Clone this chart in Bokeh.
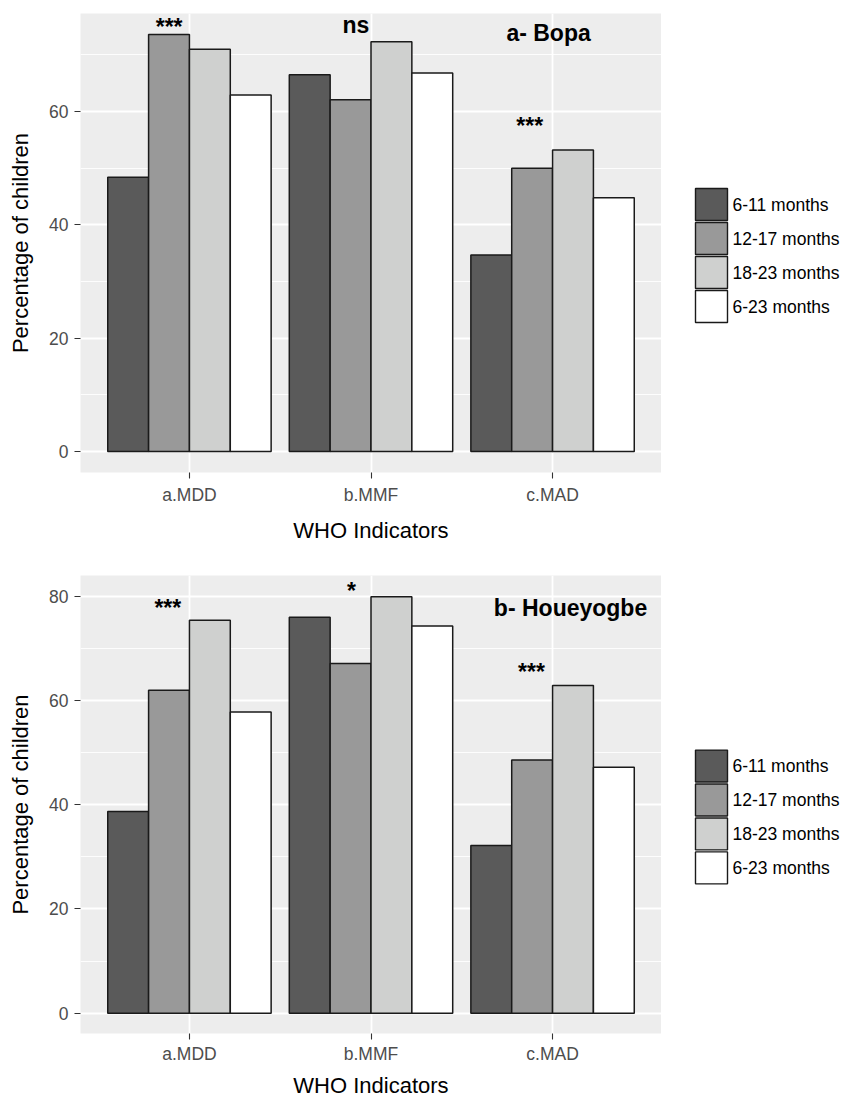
from bokeh.plotting import figure
from bokeh.models import Range1d, FixedTicker, ColumnDataSource
from bokeh.layouts import column, row
from bokeh.core.properties import value
from bokeh.embed import file_html
from bokeh.resources import INLINE

categories = ["a.MDD", "b.MMF", "c.MAD"]
groups = ["6-11 months", "12-17 months", "18-23 months", "6-23 months"]
group_colors = ["#5A5A5A", "#999999", "#CFD0CF", "#FFFFFF"]

# Panel a - Bopa
bopa_6_11 = [48.4, 66.5, 34.7]
bopa_12_17 = [73.6, 62.1, 50.0]
bopa_18_23 = [71.0, 72.3, 53.2]
bopa_6_23 = [62.9, 66.8, 44.8]

# Panel b - Houeyogbe
houe_6_11 = [38.7, 76.0, 32.2]
houe_12_17 = [62.0, 67.1, 48.6]
houe_18_23 = [75.4, 79.9, 62.9]
houe_6_23 = [57.8, 74.3, 47.2]

# Annotations (text, x in category units, y baseline in data units)
bopa_ann_text = ["***", "ns", "a- Bopa", "***"]
bopa_ann_x = [0.888, 1.917, 2.978, 2.874]
bopa_ann_y = [74.9, 75.3, 73.8, 57.4]

houe_ann_text = ["***", "*", "b- Houeyogbe", "***"]
houe_ann_x = [0.881, 1.892, 3.099, 2.884]
houe_ann_y = [77.8, 81.1, 77.7, 65.4]

bopa_yticks = [0, 20, 40, 60]
bopa_yminor = [10, 30, 50, 70]
houe_yticks = [0, 20, 40, 60, 80]
houe_yminor = [10, 30, 50, 70]

FONT = "Liberation Sans"
DODGE = 0.9
MAIN_W = 661
LEG_W = 183
FRAME_H = 459


def make_panel(series, ann_text, ann_x, ann_y, y_start, y_end, yticks, yminor,
               height, border_bottom, tick_standoff, title_standoff):
    p = figure(width=MAIN_W, height=height, output_backend="svg",
               toolbar_location=None,
               x_range=Range1d(0.4, 3.6), y_range=Range1d(y_start, y_end),
               min_border_left=80, min_border_right=0,
               min_border_top=13, min_border_bottom=border_bottom)
    p.background_fill_color = "#EDEDED"
    p.border_fill_color = "white"
    p.outline_line_color = None

    n = len(series)
    bw = DODGE / n
    for k, (vals, col) in enumerate(zip(series, group_colors)):
        xs = [i + 1 + (k - (n - 1) / 2) * bw for i in range(len(categories))]
        src = ColumnDataSource(dict(x=xs, top=vals, cat=categories))
        p.vbar(x="x", top="top", bottom=0, width=bw, source=src,
               fill_color=col, line_color="#1A1A1A", line_width=1.5)

    ann_src = ColumnDataSource(dict(x=ann_x, y=ann_y, t=ann_text))
    p.text(x="x", y="y", text="t", source=ann_src, text_align="center",
           text_baseline="alphabetic", text_font=value(FONT),
           text_font_style="bold", text_font_size="23px", text_color="black")

    p.xaxis.ticker = FixedTicker(ticks=[1, 2, 3])
    p.xaxis.major_label_overrides = {i + 1: c for i, c in enumerate(categories)}
    p.yaxis.ticker = FixedTicker(ticks=yticks, minor_ticks=yminor)
    for ax in (p.xaxis, p.yaxis):
        ax.axis_line_color = None
        ax.major_tick_line_color = "#333333"
        ax.major_tick_line_width = 1.1
        ax.major_tick_out = 6
        ax.major_tick_in = 0
        ax.minor_tick_line_color = None
        ax.major_label_text_font = FONT
        ax.major_label_text_font_size = "17.5px"
        ax.major_label_text_color = "#4D4D4D"
        ax.major_label_standoff = 6
        ax.axis_label_text_font = FONT
        ax.axis_label_text_font_size = "22px"
        ax.axis_label_text_font_style = "normal"
        ax.axis_label_text_color = "black"
    p.xaxis.major_label_standoff = tick_standoff
    p.yaxis.axis_label = "Percentage of children"
    p.yaxis.axis_label_standoff = 13
    p.xaxis.axis_label = "WHO Indicators"
    p.xaxis.axis_label_standoff = title_standoff

    p.xgrid.grid_line_color = "white"
    p.xgrid.grid_line_width = 1.8
    p.ygrid.grid_line_color = "white"
    p.ygrid.grid_line_width = 1.8
    p.ygrid.minor_grid_line_color = "white"
    p.ygrid.minor_grid_line_width = 0.9

    # legend panel: separate figure whose frame aligns with the main frame,
    # y range in pixels of that frame
    lg = figure(width=LEG_W, height=height, output_backend="svg",
                toolbar_location=None, x_axis_location=None, y_axis_location=None,
                x_range=Range1d(0, LEG_W), y_range=Range1d(0, FRAME_H),
                min_border=0, min_border_left=0, min_border_right=0,
                min_border_top=13, min_border_bottom=border_bottom)
    lg.outline_line_color = None
    lg.background_fill_color = "white"
    lg.border_fill_color = "white"
    lg.grid.visible = False
    key = 32
    pitch = 34
    top_off = 175
    key_left = 34
    key_y = [FRAME_H - (top_off + key / 2 + pitch * i) for i in range(len(groups))]
    lsrc = ColumnDataSource(dict(x=[key_left + key / 2] * len(groups), y=key_y,
                                 c=group_colors, t=groups,
                                 tx=[key_left + key + 5] * len(groups)))
    lg.rect(x="x", y="y", width=key, height=key, source=lsrc, fill_color="c",
            line_color="#1A1A1A", line_width=1.4)
    lg.text(x="tx", y="y", text="t", source=lsrc, text_align="left",
            text_baseline="middle", text_font=value(FONT),
            text_font_size="17.5px", text_color="black")
    return row(p, lg, spacing=0)


r1 = make_panel([bopa_6_11, bopa_12_17, bopa_18_23, bopa_6_23],
                bopa_ann_text, bopa_ann_x, bopa_ann_y, -3.7, 77.3,
                bopa_yticks, bopa_yminor, 562, 90, 6, 10)
r2 = make_panel([houe_6_11, houe_12_17, houe_18_23, houe_6_23],
                houe_ann_text, houe_ann_x, houe_ann_y, -3.9, 84.0,
                houe_yticks, houe_yminor, 538, 66, 4, 6)

layout = column(r1, r2, spacing=0)
open("out.html", "w").write(file_html(layout, INLINE))
